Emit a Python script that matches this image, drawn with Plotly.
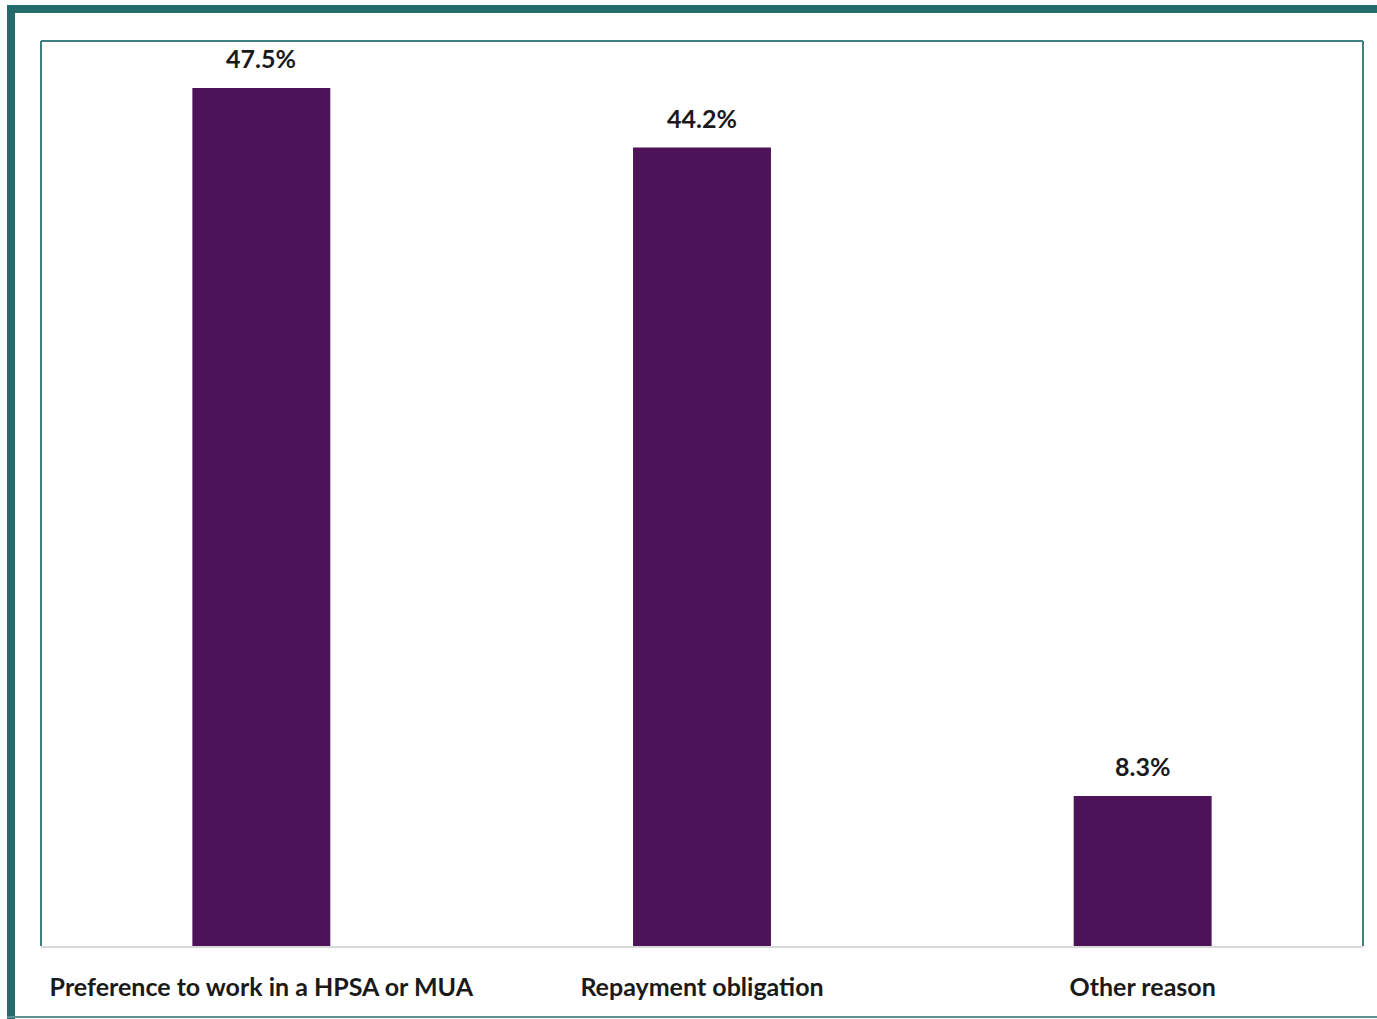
import plotly.graph_objects as go

categories = ["Preference to work in a HPSA or MUA", "Repayment obligation", "Other reason"]
values = [47.5, 44.2, 8.3]
labels = ["47.5%", "44.2%", "8.3%"]

W, H = 1377, 1019
L, R, T, B = 41, 1363, 41, 946
TEAL = "#256A6D"
BAR = "#4D1358"
FONT = "Lato"

def px(x):
    return (x - L) / (R - L)

def py(y):
    return (B - y) / (B - T)

fig = go.Figure()
fig.add_trace(go.Bar(
    x=categories, y=values, marker=dict(color=BAR, line=dict(width=0)),
    width=0.313, hoverinfo="skip",
))

for c, v, t in zip(categories, values, labels):
    fig.add_annotation(x=c, y=v, text=f"<b>{t}</b>", showarrow=False,
                       yanchor="bottom", yshift=13,
                       font=dict(family=FONT, size=25, color="#1a1a1a"))

shapes = [
    dict(type="line", xref="paper", yref="paper", x0=0, x1=0, y0=0, y1=1,
         line=dict(color="#3F7F82", width=2)),
    dict(type="line", xref="paper", yref="paper", x0=0, x1=1, y0=1, y1=1,
         line=dict(color="#3F7F82", width=2)),
    dict(type="line", xref="paper", yref="paper", x0=1, x1=1, y0=0, y1=1,
         line=dict(color="#3F7F82", width=2)),
    dict(type="rect", xref="paper", yref="paper", x0=px(7), x1=px(15), y0=py(1019), y1=py(5),
         line=dict(width=0), fillcolor=TEAL, layer="above"),
    dict(type="rect", xref="paper", yref="paper", x0=px(7), x1=px(1377), y0=py(13), y1=py(5),
         line=dict(width=0), fillcolor=TEAL, layer="above"),
    dict(type="line", xref="paper", yref="paper", x0=px(7), x1=px(1377), y0=py(1017), y1=py(1017),
         line=dict(color="#5E8F92", width=2)),
]

fig.update_layout(
    width=W, height=H,
    margin=dict(l=L, r=W - R, t=T, b=H - B, pad=0),
    paper_bgcolor="white", plot_bgcolor="white",
    showlegend=False,
    shapes=shapes,
    xaxis=dict(showline=True, linecolor="#D9D9D9", linewidth=2, showgrid=False,
               ticks="", tickfont=dict(family=FONT, size=25, color="#1a1a1a"),
               ticklabelstandoff=18, tickprefix="<b>", ticksuffix="</b>"),
    yaxis=dict(range=[0, 50.1], showgrid=False, showticklabels=False, zeroline=False,
               showline=False),
)

fig.write_html("out.html")
